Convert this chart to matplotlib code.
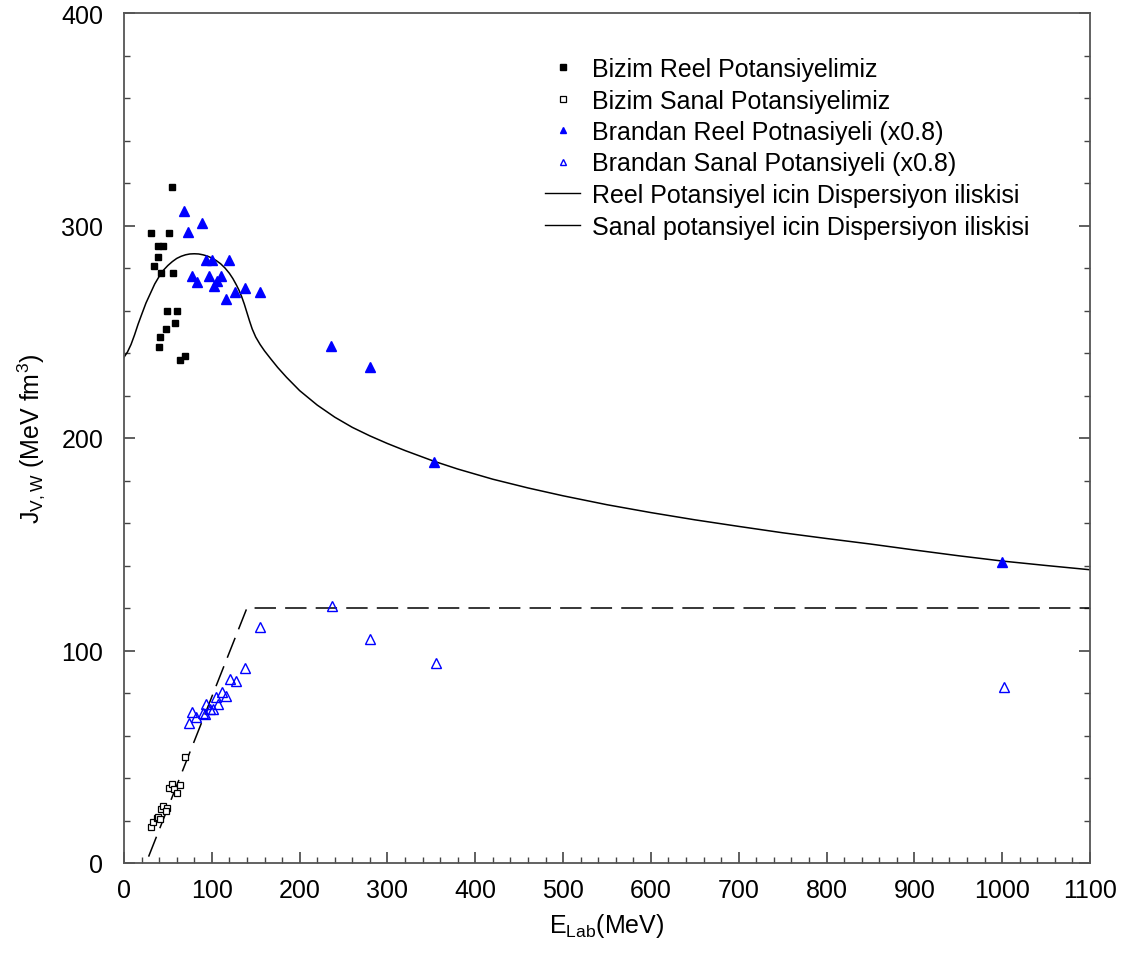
import matplotlib
matplotlib.use("Agg")
import matplotlib.pyplot as plt
from matplotlib.lines import Line2D
from matplotlib.legend_handler import HandlerLine2D
from matplotlib.ticker import MultipleLocator

plt.rcParams['font.family'] = ['Liberation Sans', 'DejaVu Sans']
plt.rcParams['mathtext.fontset'] = 'custom'
plt.rcParams['mathtext.rm'] = 'Liberation Sans'
plt.rcParams['mathtext.it'] = 'Liberation Sans'

# --- data ---
reel_x = [54.3, 31.1, 51.3, 39.1, 44.8, 38.4, 34.2, 41.8, 56.2, 48.6, 60.8, 58.1, 48.2, 41.0, 39.9, 63.8, 69.9]
reel_y = [318.0, 296.5, 296.5, 290.5, 290.5, 285.0, 280.8, 277.6, 277.6, 259.8, 259.8, 254.0, 251.1, 247.4, 242.7, 236.9, 238.7]

sanal_x = [31.1, 33.4, 37.2, 39.1, 41.0, 41.8, 44.8, 48.6, 47.5, 51.3, 54.3, 57.0, 60.0, 63.8, 69.5]
sanal_y = [17.1, 19.1, 21.0, 21.6, 20.5, 25.4, 26.7, 26.1, 24.6, 35.1, 37.2, 34.9, 32.9, 36.7, 49.7]

brandan_reel_x = [68.8, 88.9, 72.9, 93.1, 100.7, 120.0, 77.9, 82.8, 96.5, 110.2, 106.4, 102.6, 137.9, 126.1,
                  155.4, 116.2, 235.5, 280.5, 352.5, 1000.0]
brandan_reel_y = [307.0, 301.2, 297.1, 283.8, 283.8, 283.9, 276.4, 273.6, 276.4, 276.4, 273.7, 271.4, 270.4, 268.6,
                  268.6, 265.4, 243.3, 233.3, 188.9, 141.6]

brandan_sanal_x = [74.1, 77.5, 82.4, 90.4, 93.1, 91.9, 98.0, 101.8, 104.8, 107.1, 111.3, 115.9, 120.8, 127.6,
                   137.5, 155.0, 237.4, 279.6, 355.6, 1002.0]
brandan_sanal_y = [65.7, 71.2, 68.6, 70.6, 74.8, 70.0, 72.5, 72.3, 78.0, 74.8, 80.3, 78.4, 86.6, 85.8,
                   91.8, 110.9, 120.8, 105.4, 94.1, 82.8]

disp_reel_x = [0, 4, 8, 12, 16, 20, 25, 30, 35, 40, 45, 50, 55, 60, 65, 70, 75, 80, 85, 90, 95, 100,
               105, 110, 115, 120, 124, 128, 131, 134, 137, 140, 143, 146, 150, 155, 160, 167, 175,
               185, 200, 220, 240, 260, 280, 300, 320, 352, 380, 420, 460, 500, 550, 600, 650, 700,
               750, 800, 850, 900, 950, 1000, 1050, 1100]
disp_reel_y = [238, 240.5, 244, 248.5, 253.5, 258, 263.5, 268, 272.5, 276, 279, 281.2, 283, 284.5, 285.5,
               286.2, 286.6, 286.7, 286.6, 286.2, 285.6, 284.7, 283.5, 282, 280, 277.5, 275, 272, 269.5,
               266.5, 263, 259, 255, 251.3, 247.5, 244, 241, 237.3, 233.2, 228.6, 222.3, 215.5, 209.8,
               205, 201, 197.4, 194.1, 189.2, 185.4, 180.6, 176.5, 172.8, 168.6, 164.9, 161.5, 158.4,
               155.4, 152.7, 150.1, 147.3, 144.6, 142.1, 140.0, 138.0]

disp_sanal_x = [28, 140, 1100]
disp_sanal_y = [3, 120, 120]

labels = ["Bizim Reel Potansiyelimiz",
          "Bizim Sanal Potansiyelimiz",
          "Brandan Reel Potnasiyeli (x0.8)",
          "Brandan Sanal Potansiyeli (x0.8)",
          "Reel Potansiyel icin Dispersiyon iliskisi",
          "Sanal potansiyel icin Dispersiyon iliskisi"]

fig = plt.figure(figsize=(11.48, 9.54), dpi=100)
ax = fig.add_axes([124/1148, 1-864/954, (1090-124)/1148, (864-14)/954])

blue = '#0000FF'
ax.plot(disp_reel_x, disp_reel_y, color='black', lw=1.1, zorder=2)
ax.plot(disp_sanal_x, disp_sanal_y, color='black', lw=1.1, dashes=(14, 6), zorder=2)
ax.plot(reel_x, reel_y, ls='none', marker='s', ms=5, color='black', zorder=3)
ax.plot(sanal_x, sanal_y, ls='none', marker='s', ms=4.8, mfc='white', mec='black', mew=0.9, zorder=3)
ax.plot(brandan_reel_x, brandan_reel_y, ls='none', marker='^', ms=6.5, color=blue, zorder=3)
ax.plot(brandan_sanal_x, brandan_sanal_y, ls='none', marker='^', ms=6.8, mfc='none', mec=blue, mew=1.0, zorder=3)

ax.set_xlim(0, 1100)
ax.set_ylim(0, 400)
ax.xaxis.set_major_locator(MultipleLocator(100))
ax.xaxis.set_minor_locator(MultipleLocator(20))
ax.yaxis.set_major_locator(MultipleLocator(100))
ax.yaxis.set_minor_locator(MultipleLocator(20))
ax.tick_params(axis='x', which='both', direction='in', top=False, bottom=True, colors='#444444',
               labelcolor='black', labelsize=18)
ax.tick_params(axis='y', which='both', direction='in', left=True, right=True, colors='#444444',
               labelcolor='black', labelsize=18)
ax.tick_params(axis='x', which='major', length=8, width=1.2, pad=11)
ax.tick_params(axis='x', which='minor', length=4, width=1.0)
ax.tick_params(axis='y', which='major', length=8, width=1.2, pad=15)
ax.tick_params(axis='y', which='minor', length=4, width=1.0)
for s in ax.spines.values():
    s.set_color('#555555')
    s.set_linewidth(1.3)

ax.set_xlabel(r'E$_{\mathrm{Lab}}$(MeV)', fontsize=18, labelpad=6)
ax.set_ylabel(r'J$_{\mathrm{V,W}}$ (MeV fm$^{3}$)', fontsize=18, labelpad=10)


class RightMarkerHandler(HandlerLine2D):
    def get_xdata(self, legend, xdescent, ydescent, width, height, fontsize):
        xd, xm = super().get_xdata(legend, xdescent, ydescent, width, height, fontsize)
        return xd, [-xdescent + 0.95 * width]


handles = [
    Line2D([], [], ls='none', marker='s', ms=4, color='black'),
    Line2D([], [], ls='none', marker='s', ms=4, mfc='white', mec='black', mew=0.9),
    Line2D([], [], ls='none', marker='^', ms=5, color=blue),
    Line2D([], [], ls='none', marker='^', ms=5, mfc='none', mec=blue, mew=1.0),
    Line2D([], [], color='black', lw=1.0),
    Line2D([], [], color='black', lw=1.0),
]
hmap = {h: RightMarkerHandler(numpoints=1) for h in handles[:4]}
leg = ax.legend(handles, labels, loc='upper left', bbox_to_anchor=((545-124)/966, (864-58)/850),
                frameon=False, fontsize=18, handlelength=1.4, handletextpad=0.5,
                labelspacing=0.3, borderpad=0, borderaxespad=0, handler_map=hmap)

fig.savefig('out.png', dpi=100)
